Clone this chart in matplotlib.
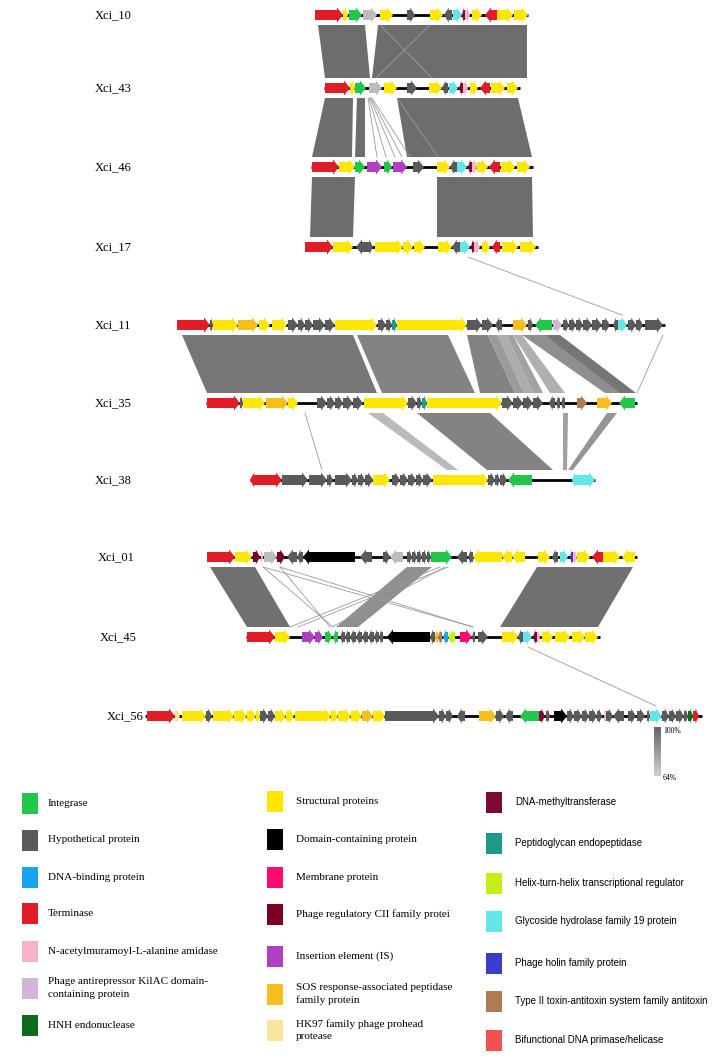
import numpy as np
import matplotlib.pyplot as plt
from matplotlib.patches import Polygon, Rectangle
from matplotlib.colors import LinearSegmentedColormap

# genomes, top to bottom
names = ['Xci_10', 'Xci_43', 'Xci_46', 'Xci_17', 'Xci_11', 'Xci_35', 'Xci_38', 'Xci_01', 'Xci_45', 'Xci_56']
spans = [(315, 528), (324, 520), (311, 533), (305, 538), (177, 665),
         (206, 637), (250, 595), (207, 637), (246, 600), (145, 702)]

# genes: (start, end, strand, category)
genes_10 = [(315, 343, 1, 'ter'), (343, 348, 1, 'str'), (349, 362, 1, 'int'), (363, 377, 1, 'sil'),
            (380, 393, 1, 'str'), (407, 415, 1, 'hyp'), (430, 443, 1, 'str'), (444, 452, -1, 'hyp'),
            (453, 462, 1, 'gh19'), (462, 465, -1, 'mtase'), (465, 470, 1, 'ami'), (472, 482, 1, 'str'),
            (485, 497, -1, 'ter'), (497, 513, 1, 'str'), (514, 528, 1, 'str')]
genes_43 = [(325, 350, 1, 'ter'), (350, 355, 1, 'str'), (355, 366, 1, 'int'), (369, 382, 1, 'sil'),
            (384, 397, 1, 'str'), (407, 417, 1, 'hyp'), (429, 442, 1, 'str'), (442, 448, -1, 'hyp'),
            (449, 458, 1, 'gh19'), (459, 463, -1, 'mtase'), (463, 468, 1, 'ami'), (470, 478, 1, 'str'),
            (480, 490, -1, 'ter'), (491, 505, 1, 'str'), (507, 518, 1, 'str')]
genes_46 = [(312, 339, 1, 'ter'), (339, 355, 1, 'str'), (355, 365, 1, 'int'), (367, 382, 1, 'is'),
            (384, 392, 1, 'int'), (393, 407, 1, 'is'), (413, 424, 1, 'hyp'), (437, 450, 1, 'str'),
            (450, 457, -1, 'hyp'), (457, 467, 1, 'gh19'), (468, 472, -1, 'mtase'), (472, 477, 1, 'ami'),
            (477, 488, 1, 'str'), (489, 500, -1, 'ter'), (501, 515, 1, 'str'), (517, 530, 1, 'str')]
genes_17 = [(305, 333, 1, 'ter'), (333, 353, 1, 'str'), (356, 367, -1, 'hyp'), (367, 373, 1, 'hyp'),
            (375, 403, 1, 'str'), (403, 413, 1, 'str'), (414, 425, 1, 'str'), (438, 452, 1, 'str'),
            (452, 460, -1, 'hyp'), (460, 470, 1, 'gh19'), (471, 474, -1, 'mtase'), (474, 480, 1, 'ami'),
            (482, 490, 1, 'str'), (492, 500, -1, 'ter'), (502, 518, 1, 'str'), (520, 536, 1, 'str')]
genes_11 = [(177, 210, 1, 'ter'), (210, 213, 1, 'hyp'), (213, 238, 1, 'str'), (238, 258, 1, 'sos'),
            (259, 270, 1, 'str'), (272, 287, 1, 'str'), (288, 298, 1, 'hyp'), (298, 305, 1, 'hyp'),
            (305, 313, 1, 'hyp'), (313, 325, 1, 'hyp'), (325, 335, 1, 'hyp'), (335, 377, 1, 'str'),
            (378, 386, 1, 'hyp'), (386, 392, 1, 'hyp'), (392, 397, 1, 'pep'), (397, 467, 1, 'str'),
            (467, 482, 1, 'hyp'), (482, 493, 1, 'hyp'), (495, 502, -1, 'hyp'), (513, 527, 1, 'sos'),
            (528, 533, 1, 'hyp'), (535, 552, -1, 'int'), (553, 562, 1, 'anti'), (563, 569, 1, 'hyp'),
            (569, 576, 1, 'hyp'), (576, 583, 1, 'hyp'), (583, 592, 1, 'hyp'), (592, 602, 1, 'hyp'),
            (602, 610, 1, 'hyp'), (613, 618, -1, 'hyp'), (618, 627, 1, 'gh19'), (628, 636, 1, 'hyp'),
            (636, 643, 1, 'hyp'), (645, 663, 1, 'hyp')]
genes_35 = [(207, 240, 1, 'ter'), (240, 243, 1, 'hyp'), (243, 265, 1, 'str'), (266, 288, 1, 'sos'),
            (288, 298, 1, 'str'), (317, 327, 1, 'hyp'), (327, 335, 1, 'hyp'), (335, 343, 1, 'hyp'),
            (343, 353, 1, 'hyp'), (353, 363, 1, 'hyp'), (364, 408, 1, 'str'), (408, 417, 1, 'hyp'),
            (417, 422, 1, 'hyp'), (422, 427, 1, 'pep'), (427, 502, 1, 'str'), (502, 513, 1, 'hyp'),
            (513, 523, 1, 'hyp'), (523, 533, 1, 'hyp'), (533, 543, 1, 'hyp'), (549, 555, -1, 'hyp'),
            (556, 560, -1, 'hyp'), (561, 565, -1, 'hyp'), (577, 587, 1, 'tat'), (597, 612, 1, 'sos'),
            (619, 635, -1, 'int')]
genes_38 = [(250, 257, -1, 'ter'), (257, 282, 1, 'ter'), (282, 308, 1, 'hyp'), (309, 327, 1, 'hyp'),
            (327, 333, 1, 'hyp'), (335, 352, 1, 'hyp'), (352, 358, 1, 'hyp'), (358, 365, 1, 'hyp'),
            (365, 373, 1, 'hyp'), (373, 390, 1, 'str'), (392, 400, 1, 'hyp'), (400, 408, 1, 'hyp'),
            (408, 416, 1, 'hyp'), (416, 423, 1, 'hyp'), (423, 432, 1, 'hyp'), (433, 488, 1, 'str'),
            (488, 495, 1, 'hyp'), (495, 500, 1, 'hyp'), (500, 507, 1, 'hyp'), (508, 532, -1, 'int'),
            (572, 577, -1, 'gh19'), (577, 595, 1, 'gh19')]
genes_01 = [(207, 235, 1, 'ter'), (235, 252, 1, 'str'), (253, 260, 1, 'cii'), (261, 263, 1, 'ami'),
            (264, 277, 1, 'sil'), (277, 285, 1, 'cii'), (287, 297, -1, 'hyp'), (297, 303, -1, 'hyp'),
            (303, 355, -1, 'dom'), (360, 372, -1, 'hyp'), (383, 390, 1, 'hyp'), (390, 403, -1, 'sil'),
            (407, 412, 1, 'hyp'), (412, 417, 1, 'hyp'), (417, 422, 1, 'hyp'), (422, 427, 1, 'hyp'),
            (427, 431, 1, 'hyp'), (431, 452, 1, 'int'), (457, 467, -1, 'hyp'), (468, 473, -1, 'hyp'),
            (473, 502, -1, 'str'), (502, 512, -1, 'str'), (512, 525, -1, 'str'), (538, 550, 1, 'str'),
            (552, 558, -1, 'hyp'), (560, 568, 1, 'gh19'), (570, 573, -1, 'hol'), (573, 577, 1, 'ami'),
            (577, 590, 1, 'str'), (592, 603, -1, 'ter'), (603, 620, 1, 'str'), (622, 635, -1, 'str')]
genes_45 = [(247, 275, 1, 'ter'), (275, 290, 1, 'str'), (302, 315, 1, 'is'), (315, 323, 1, 'is'),
            (325, 332, 1, 'int'), (333, 338, -1, 'int'), (340, 345, -1, 'hyp'), (345, 350, -1, 'hyp'),
            (350, 356, -1, 'hyp'), (356, 362, -1, 'hyp'), (362, 368, -1, 'hyp'), (368, 374, -1, 'hyp'),
            (374, 379, -1, 'hyp'), (379, 383, -1, 'hyp'), (387, 430, -1, 'dom'), (430, 435, -1, 'hyp'),
            (435, 438, -1, 'sos'), (438, 442, -1, 'tat'), (443, 448, -1, 'dna'), (448, 455, -1, 'hth'),
            (460, 472, 1, 'mem'), (472, 475, -1, 'hyp'), (478, 488, 1, 'hyp'), (502, 518, 1, 'str'),
            (518, 523, -1, 'hyp'), (523, 532, 1, 'gh19'), (533, 537, -1, 'mtase'), (537, 540, 1, 'ami'),
            (542, 553, 1, 'str'), (555, 570, 1, 'str'), (572, 585, 1, 'str'), (585, 598, 1, 'str')]
genes_56 = [(147, 175, 1, 'ter'), (175, 180, 1, 'hk97'), (182, 206, 1, 'str'), (206, 212, 1, 'hyp'),
            (213, 234, 1, 'str'), (234, 247, 1, 'str'), (247, 256, 1, 'str'), (256, 260, 1, 'str'),
            (260, 268, 1, 'hyp'), (268, 275, 1, 'hyp'), (275, 286, 1, 'str'), (286, 294, 1, 'str'),
            (295, 331, 1, 'str'), (331, 338, 1, 'str'), (338, 351, 1, 'str'), (351, 362, 1, 'str'),
            (362, 373, 1, 'sos'), (373, 385, 1, 'str'), (385, 439, 1, 'hyp'), (439, 446, 1, 'hyp'),
            (446, 453, 1, 'hyp'), (457, 465, -1, 'hyp'), (479, 496, 1, 'sos'), (496, 504, 1, 'hyp'),
            (505, 513, -1, 'hyp'), (520, 539, -1, 'int'), (539, 545, 1, 'mtase'), (546, 550, 1, 'hyp'),
            (554, 567, 1, 'dom'), (567, 574, 1, 'hyp'), (574, 582, 1, 'hyp'), (582, 589, 1, 'hyp'),
            (589, 597, 1, 'hyp'), (597, 602, 1, 'hyp'), (604, 606, 1, 'ami'), (606, 613, 1, 'hyp'),
            (613, 624, -1, 'hyp'), (628, 636, 1, 'hyp'), (637, 645, 1, 'hyp'), (647, 650, 1, 'hyp'),
            (650, 662, 1, 'gh19'), (662, 669, 1, 'hyp'), (669, 676, 1, 'hyp'), (676, 684, 1, 'hyp'),
            (684, 688, 1, 'hyp'), (688, 693, 1, 'hnh'), (693, 699, 1, 'ter')]

# homology blocks between neighbouring genomes: (top_a, top_b, bottom_a, bottom_b, identity %)
blocks_10_43 = [(318, 365, 325, 370, 97), (378, 527, 372, 527, 97)]
blocks_43_46 = [(325, 353, 312, 352, 97), (357, 365, 355, 365, 97), (397, 518, 407, 532, 97)]
blocks_46_17 = [(312, 355, 310, 353, 97), (437, 532, 437, 533, 97)]
blocks_11_35 = [(182, 353, 207, 377, 94), (357, 448, 382, 475, 90), (467, 488, 480, 515, 90),
                (488, 497, 515, 530, 82), (497, 507, 523, 533, 76), (507, 513, 533, 543, 80),
                (513, 522, 550, 565, 75), (522, 545, 605, 625, 86), (545, 560, 620, 636, 94)]
blocks_35_38 = [(368, 383, 447, 458, 72), (417, 490, 487, 553, 90), (563, 568, 563, 567, 80),
                (607, 617, 568, 573, 84)]
blocks_01_45 = [(210, 255, 247, 290, 96), (537, 633, 500, 598, 96), (407, 432, 336, 358, 86)]

# thin single-gene matches: (top_x, bottom_x)
lines_10_43 = [(380, 432), (430, 376)]
lines_43_46 = [(368, 377), (369, 386), (370, 395), (371, 402), (372, 410), (397, 438)]
lines_17_11 = [(468, 622)]
lines_11_35 = [(663, 637)]
lines_35_38 = [(305, 322)]
lines_01_45 = [(263, 333), (263, 473), (280, 330), (280, 473), (440, 290), (448, 298), (445, 332)]
lines_45_56 = [(528, 656)]

pairs = [(0, 1, blocks_10_43, lines_10_43), (1, 2, blocks_43_46, lines_43_46),
         (2, 3, blocks_46_17, []), (3, 4, [], lines_17_11), (4, 5, blocks_11_35, lines_11_35),
         (5, 6, blocks_35_38, lines_35_38), (7, 8, blocks_01_45, lines_01_45), (8, 9, [], lines_45_56)]

colors = {'int': '#22c64a', 'hyp': '#5a5a5a', 'dna': '#1aa3ee', 'ter': '#e21c26', 'ami': '#f6b2c8',
          'anti': '#d2b6d6', 'hnh': '#0b6a1c', 'str': '#ffe800', 'dom': '#000000', 'mem': '#ff0a70',
          'cii': '#7b0021', 'is': '#b03fc2', 'sos': '#f7bf1e', 'hk97': '#fbe49e', 'mtase': '#7d0a32',
          'pep': '#1e9a88', 'hth': '#c4f018', 'gh19': '#62e6e6', 'hol': '#3a3dcc', 'tat': '#b07a52',
          'pri': '#f05252', 'sil': '#bcbcbc'}

legend_col1 = [('Integrase', 'int'), ('Hypothetical protein', 'hyp'), ('DNA-binding protein', 'dna'),
               ('Terminase', 'ter'), ('N-acetylmuramoyl-L-alanine amidase', 'ami'),
               ('Phage antirepressor KilAC domain-\ncontaining protein', 'anti'), ('HNH endonuclease', 'hnh')]
legend_col2 = [('Structural proteins', 'str'), ('Domain-containing protein', 'dom'), ('Membrane protein', 'mem'),
               ('Phage regulatory CII family protei', 'cii'), ('Insertion element (IS)', 'is'),
               ('SOS response-associated peptidase\nfamily protein', 'sos'),
               ('HK97 family phage prohead\nprotease', 'hk97')]
legend_col3 = [('DNA-methyltransferase', 'mtase'), ('Peptidoglycan endopeptidase', 'pep'),
               ('Helix-turn-helix transcriptional regulator', 'hth'), ('Glycoside hydrolase family 19 protein', 'gh19'),
               ('Phage holin family protein', 'hol'), ('Type II toxin-antitoxin system family antitoxin', 'tat'),
               ('Bifunctional DNA primase/helicase', 'pri')]

all_genes = [genes_10, genes_43, genes_46, genes_17, genes_11, genes_35, genes_38, genes_01, genes_45, genes_56]
track_y = [15, 88, 167, 247, 325, 403, 480, 557, 637, 716]
label_x = [95, 95, 95, 95, 95, 95, 95, 98, 100, 107]

fig = plt.figure(figsize=(7.24, 10.57), dpi=100)
ax = fig.add_axes([0, 0, 1, 1])
ax.set_xlim(0, 724)
ax.set_ylim(1057, 0)
ax.axis('off')

cmap = LinearSegmentedColormap.from_list('ident', ['#d2d2d2', '#646464'])


def ident_color(p):
    return cmap((p - 64) / 36.0)


# links first so genes sit on top
off = 10
for ti, bi, blocks, lines in pairs:
    yt = track_y[ti] + off
    yb = track_y[bi] - off
    for a, b, c, d, p in blocks:
        ax.add_patch(Polygon([(a, yt), (b, yt), (d, yb), (c, yb)], closed=True,
                             facecolor=ident_color(p), edgecolor='none', zorder=1))
    for a, c in lines:
        ax.plot([a, c], [yt, yb], color='#9a9a9a', lw=0.6, zorder=1)


def gene_poly(s, e, strand, y):
    L = e - s
    hl = min(6.0, L * 0.6)
    bh, hh = 5.0, 7.5
    if strand > 0:
        pts = [(s, y - bh), (e - hl, y - bh), (e - hl, y - hh), (e, y),
               (e - hl, y + hh), (e - hl, y + bh), (s, y + bh)]
    else:
        pts = [(e, y - bh), (s + hl, y - bh), (s + hl, y - hh), (s, y),
               (s + hl, y + hh), (s + hl, y + bh), (e, y + bh)]
    return pts


for name, (x0, x1), gl, y, lx in zip(names, spans, all_genes, track_y, label_x):
    ax.plot([x0, x1], [y, y], color='black', lw=2, zorder=2, solid_capstyle='butt')
    for s, e, strand, cat in gl:
        ax.add_patch(Polygon(gene_poly(s, e, strand, y), closed=True, facecolor=colors[cat],
                             edgecolor='none', zorder=3))
    ax.text(lx, y, name, fontsize=9, family='Liberation Serif', va='center', ha='left')

# identity scale bar
grad = np.linspace(0, 1, 100).reshape(-1, 1)
ax.imshow(grad, cmap=LinearSegmentedColormap.from_list('sb', ['#666666', '#d0d0d0']),
          extent=(654, 661, 776, 727), aspect='auto', zorder=2)
ax.text(663, 731, '100%', fontsize=5.5, family='Liberation Serif', va='center')
ax.text(663, 778, '64%', fontsize=5.5, family='Liberation Serif', va='center')

# legend
col1_y = [803, 840, 877, 913, 951, 988, 1025]
col2_y = [801, 839, 877, 914, 956, 994, 1030]
col3_y = [802, 843, 883, 921, 963, 1001, 1040]
for entries, ys, sx, tx, fam, fs in [(legend_col1, col1_y, 22, 48, 'Liberation Serif', 8),
                                     (legend_col2, col2_y, 267, 296, 'Liberation Serif', 8),
                                     (legend_col3, col3_y, 486, 515, 'Liberation Sans', 7.0)]:
    for (lab, key), y in zip(entries, ys):
        ax.add_patch(Rectangle((sx, y - 10.5), 16, 21, facecolor=colors[key], edgecolor='none'))
        ax.text(tx, y, lab, fontsize=fs, family=fam, va='center', ha='left', linespacing=1.5)

fig.savefig('out.png', dpi=100)
